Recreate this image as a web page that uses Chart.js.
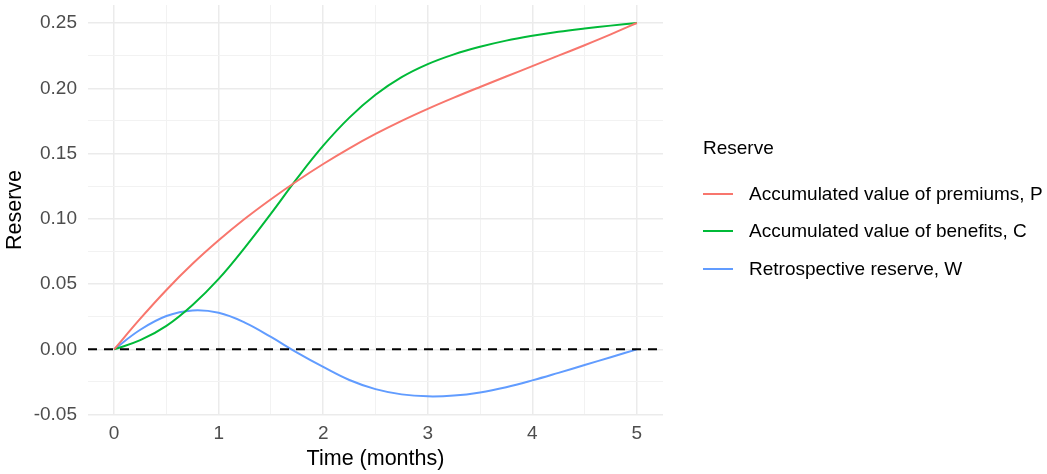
<!DOCTYPE html>
<html>
<head>
<meta charset="utf-8">
<title>Reserve</title>
<script src="https://cdn.jsdelivr.net/npm/chart.js@4.4.1/dist/chart.umd.min.js"></script>
<style>
  body { margin: 0; background: #fff; }
  #wrap { position: relative; width: 1047px; height: 474px; }
  #legend { position: absolute; left: 703px; top: 137px; font-family: "Liberation Sans", Arial, sans-serif; color: #000; }
  #legend .title { font-size: 19px; margin-bottom: 16px; }
  #legend .item { display: flex; align-items: center; height: 37.5px; font-size: 19px; }
  #legend .swatch { width: 30px; height: 2px; margin-right: 16px; }
</style>
</head>
<body>
<div id="wrap">
  <canvas id="chart" width="1047" height="474"></canvas>
  <div id="legend"></div>
</div>
<script>
// time in months
const months = [0, 0.25, 0.5, 0.75, 1, 1.25, 1.5, 1.75, 2, 2.25, 2.5, 2.75, 3, 3.25, 3.5, 3.75, 4, 4.25, 4.5, 4.75, 5];

const premiums = [0, 0.0235, 0.0455, 0.0655, 0.0835, 0.1000, 0.1150, 0.1290, 0.1420, 0.1540, 0.1650, 0.1750, 0.1842, 0.1928, 0.2010, 0.2090, 0.2170, 0.2250, 0.2330, 0.2413, 0.2500];
const benefits = [0, 0.007, 0.018, 0.034, 0.054, 0.078, 0.104, 0.131, 0.156, 0.1775, 0.1950, 0.2085, 0.2185, 0.2260, 0.2318, 0.2365, 0.2402, 0.2433, 0.2458, 0.2480, 0.2500];
const reserve  = [0, 0.0150, 0.0255, 0.0298, 0.0280, 0.0205, 0.0095, -0.0025, -0.0135, -0.0235, -0.0305, -0.0345, -0.0360, -0.0354, -0.0330, -0.0290, -0.0238, -0.0180, -0.0120, -0.0060, 0];

const seriesNames = ['Accumulated value of premiums, P', 'Accumulated value of benefits, C', 'Retrospective reserve, W'];
const seriesColors = ['#F8766D', '#00BA38', '#619CFF'];

const xTicks = [0, 0.5, 1, 1.5, 2, 2.5, 3, 3.5, 4, 4.5, 5];
const yTicks = [-0.05, -0.025, 0, 0.025, 0.05, 0.075, 0.1, 0.125, 0.15, 0.175, 0.2, 0.225, 0.25];

const FONT = '"Liberation Sans", Arial, sans-serif';

function isMajor(v, step) {
    return Math.abs(v / step - Math.round(v / step)) < 1e-6;
}

function toPoints(values) {
    return months.map((m, i) => ({ x: m, y: values[i] }));
}

// dashed line at zero
const zeroLine = {
    id: 'zeroLine',
    afterDatasetsDraw(chart) {
        const { ctx, chartArea, scales } = chart;
        const y = scales.y.getPixelForValue(0);
        ctx.save();
        ctx.strokeStyle = '#000';
        ctx.lineWidth = 2;
        ctx.setLineDash([9, 7]);
        ctx.beginPath();
        ctx.moveTo(chartArea.left, y);
        ctx.lineTo(chartArea.right, y);
        ctx.stroke();
        ctx.restore();
    }
};

const allValues = [premiums, benefits, reserve];

new Chart(document.getElementById('chart'), {
    type: 'line',
    data: {
        datasets: allValues.map((vals, i) => ({
            label: seriesNames[i],
            data: toPoints(vals),
            borderColor: seriesColors[i],
            backgroundColor: seriesColors[i],
            borderWidth: 2,
            pointRadius: 0,
            tension: 0.4,
            fill: false
        }))
    },
    options: {
        responsive: false,
        animation: false,
        layout: { padding: { left: 0, right: 384, top: 5, bottom: 0 } },
        plugins: {
            legend: { display: false },
            tooltip: { enabled: false }
        },
        scales: {
            x: {
                type: 'linear',
                min: -0.25,
                max: 5.25,
                afterBuildTicks: s => { s.ticks = xTicks.map(v => ({ value: v })); },
                afterFit: s => { s.height = 59; s.paddingLeft = 0; s.paddingRight = 0; },
                border: { display: false },
                grid: {
                    drawTicks: false,
                    color: c => isMajor(c.tick.value, 1) ? '#EBEBEB' : '#F2F2F2',
                    lineWidth: c => isMajor(c.tick.value, 1) ? 1.5 : 1
                },
                ticks: {
                    autoSkip: false,
                    maxRotation: 0,
                    padding: 7,
                    color: '#4D4D4D',
                    font: { family: FONT, size: 19 },
                    callback: v => isMajor(v, 1) ? String(Math.round(v)) : ''
                },
                title: {
                    display: true,
                    text: 'Time (months)',
                    color: '#000',
                    font: { family: FONT, size: 21.5 },
                    padding: { top: 0, bottom: 2 }
                }
            },
            y: {
                type: 'linear',
                min: -0.0503,
                max: 0.2638,
                afterBuildTicks: s => { s.ticks = yTicks.map(v => ({ value: v })); },
                afterFit: s => { s.width = 88; s.paddingTop = 0; s.paddingBottom = 0; },
                border: { display: false },
                grid: {
                    drawTicks: false,
                    color: c => isMajor(c.tick.value, 0.05) ? '#EBEBEB' : '#F2F2F2',
                    lineWidth: c => isMajor(c.tick.value, 0.05) ? 1.5 : 1
                },
                ticks: {
                    autoSkip: false,
                    padding: 11,
                    color: '#4D4D4D',
                    font: { family: FONT, size: 19 },
                    callback: v => isMajor(v, 0.05) ? v.toFixed(2) : ''
                },
                title: {
                    display: true,
                    text: 'Reserve',
                    color: '#000',
                    font: { family: FONT, size: 21.5 },
                    padding: { top: 2, bottom: 0 }
                }
            }
        }
    },
    plugins: [zeroLine]
});

// legend as html
const legend = document.getElementById('legend');
legend.innerHTML = '<div class="title">Reserve</div>' + seriesNames.map((n, i) =>
    '<div class="item"><span class="swatch" style="background:' + seriesColors[i] + '"></span>' + n + '</div>'
).join('');
</script>
</body>
</html>
